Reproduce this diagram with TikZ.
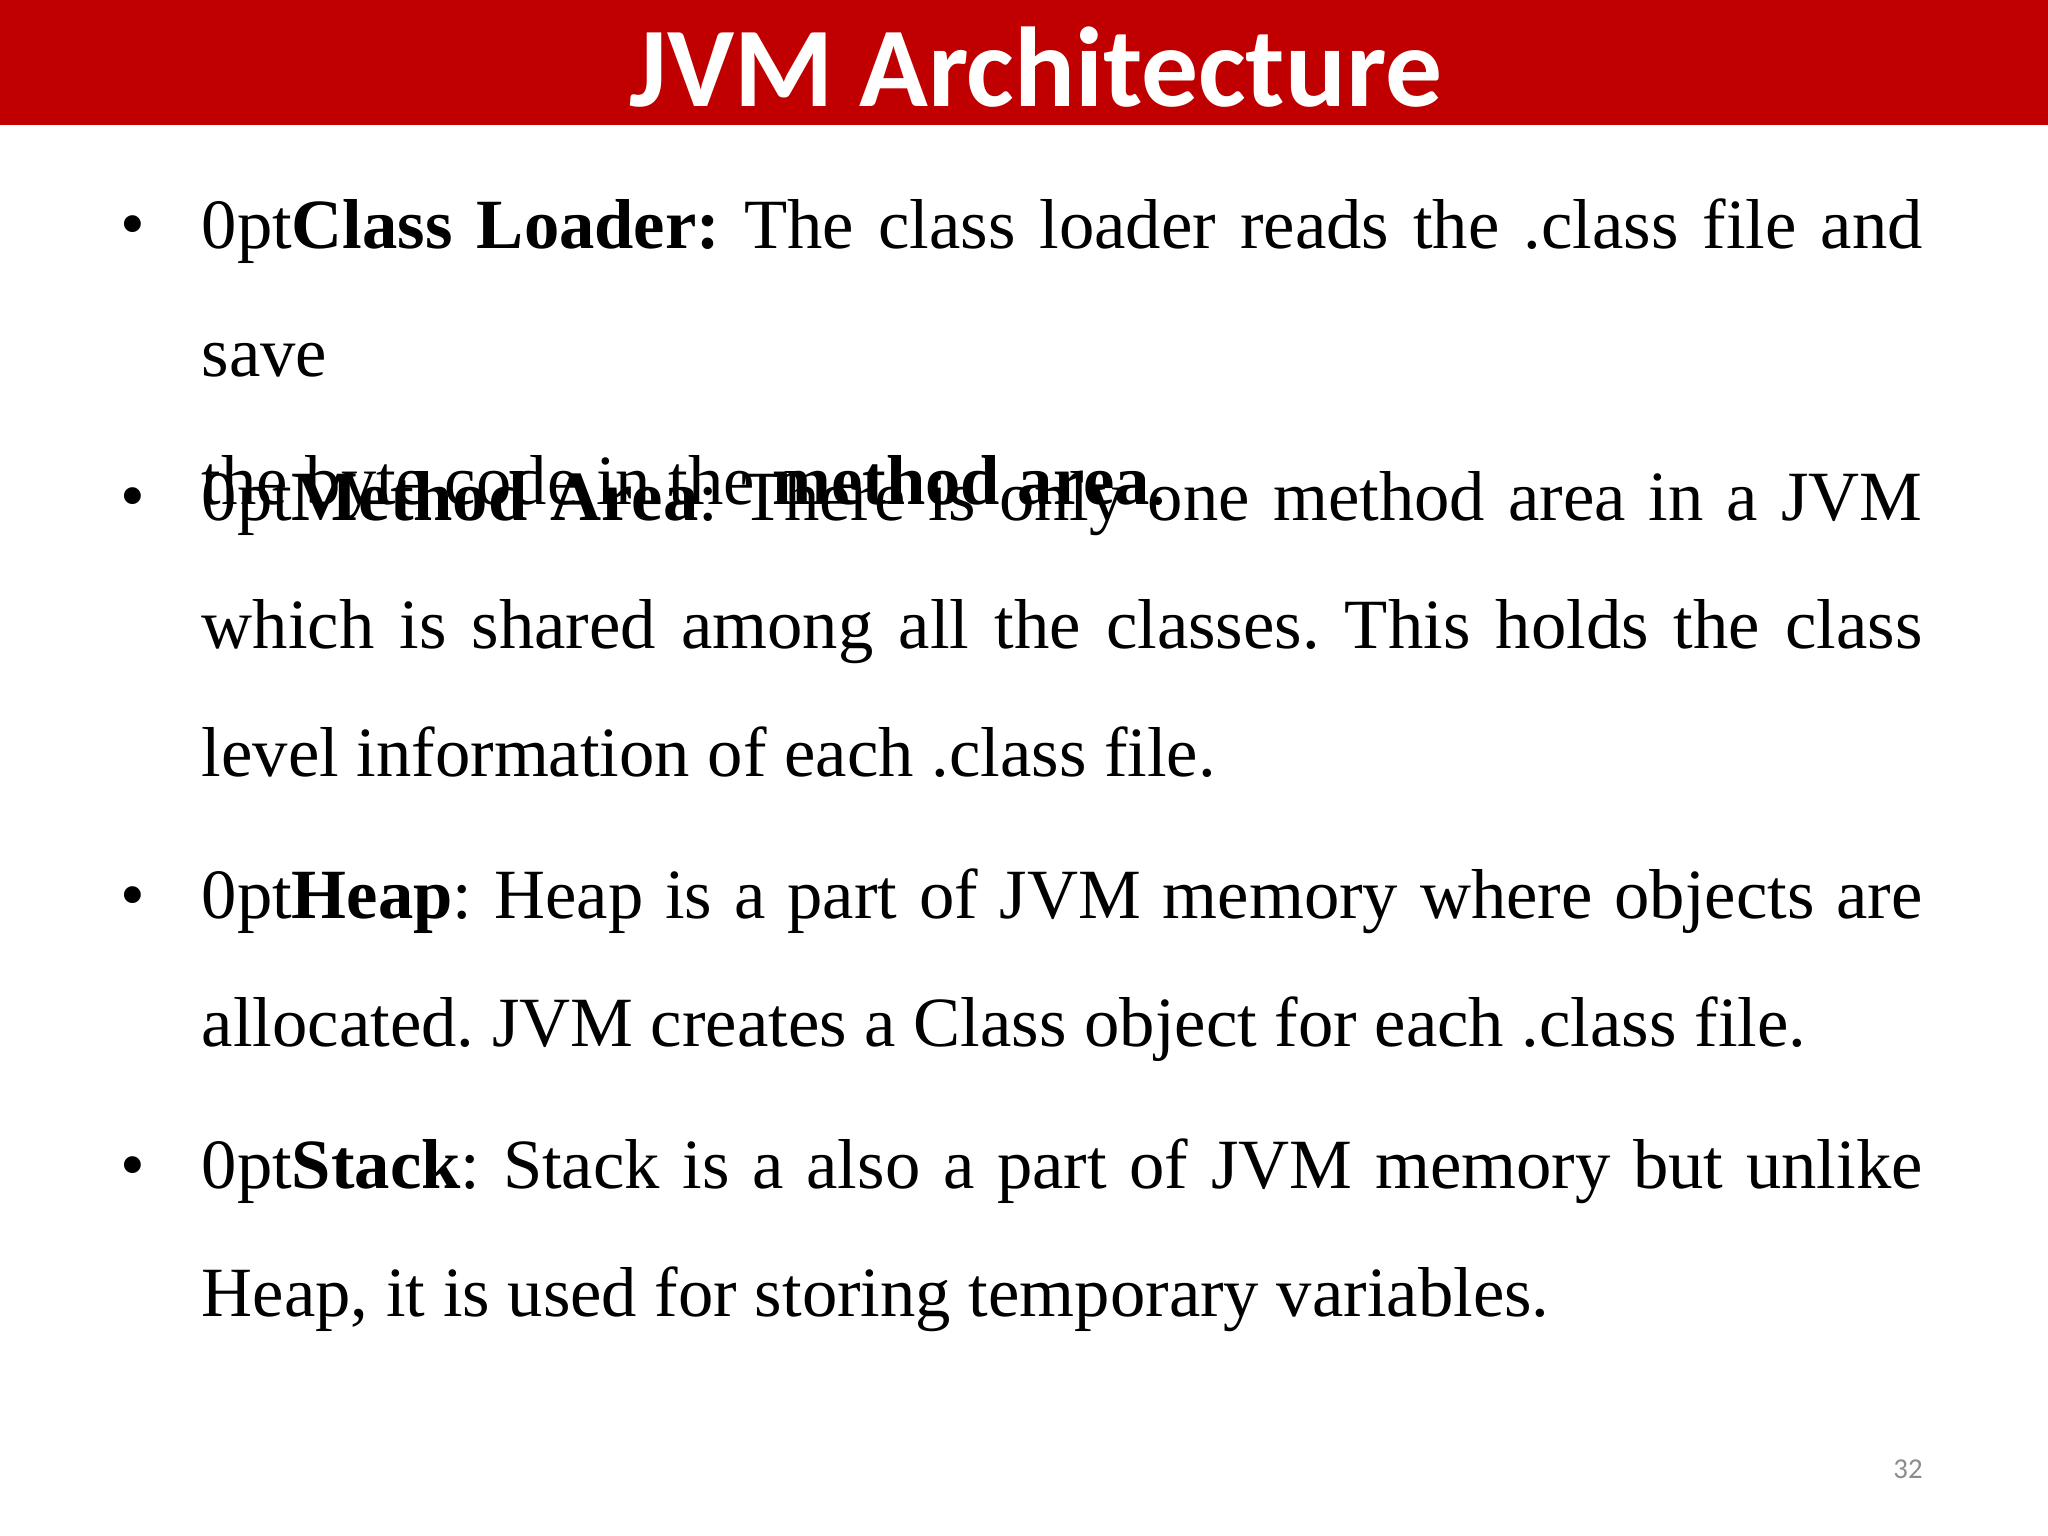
\documentclass[tikz,border=0pt]{standalone}
\usepackage{fontspec}
\setmainfont{Liberation Serif}
\newfontfamily\titlefont{Carlito}
\definecolor{barred}{HTML}{C00000}
\definecolor{pgnum}{HTML}{8C8C8C}
\begin{document}
\begin{tikzpicture}[
  para/.style={anchor=north west,inner sep=0pt,text width=17.21cm,align=justify,
    font=\fontsize{20.1pt}{36.4pt}\selectfont\frenchspacing\hyphenpenalty=10000\exhyphenpenalty=10000},
  bul/.style={anchor=base,inner sep=0pt,font=\fontsize{20.1pt}{36.4pt}\selectfont}]
\useasboundingbox (0,0) rectangle (20.48,-15.36);
\fill[barred] (0,0) rectangle (20.48,-1.25);
\node[anchor=base,inner sep=0pt,text=white,font=\titlefont\bfseries\fontsize{32.3pt}{36pt}\selectfont] (title) at (10.36,-1.07) {JVM Architecture};
\node[para] (p1) at (2.01,-2.48+1) {\rule{0pt}{1cm}\textbf{Class Loader:} The class loader reads the .class file and save\linebreak the byte code in the \textbf{method area}.};
\node[para] (p2) at (2.01,-5.20+1) {\rule{0pt}{1cm}\textbf{Method Area}: There is only one method area in a JVM\linebreak which is shared among all the classes. This holds the class\linebreak level information of each .class file.};
\node[para] (p3) at (2.01,-9.18+1) {\rule{0pt}{1cm}\textbf{Heap}: Heap is a part of JVM memory where objects are\linebreak allocated. JVM creates a Class object for each .class file.};
\node[para] (p4) at (2.01,-11.88+1) {\rule{0pt}{1cm}\textbf{Stack}: Stack is a also a part of JVM memory but unlike\linebreak Heap, it is used for storing temporary variables.};
\node[bul] (b1) at (1.33,-2.48) {•};
\node[bul] (b2) at (1.33,-5.20) {•};
\node[bul] (b3) at (1.33,-9.18) {•};
\node[bul] (b4) at (1.33,-11.88) {•};
\node[anchor=base,inner sep=0pt,text=pgnum,font=\titlefont\fontsize{8.2pt}{10pt}\selectfont] (pg) at (19.08,-14.78) {32};
\end{tikzpicture}
\end{document}
